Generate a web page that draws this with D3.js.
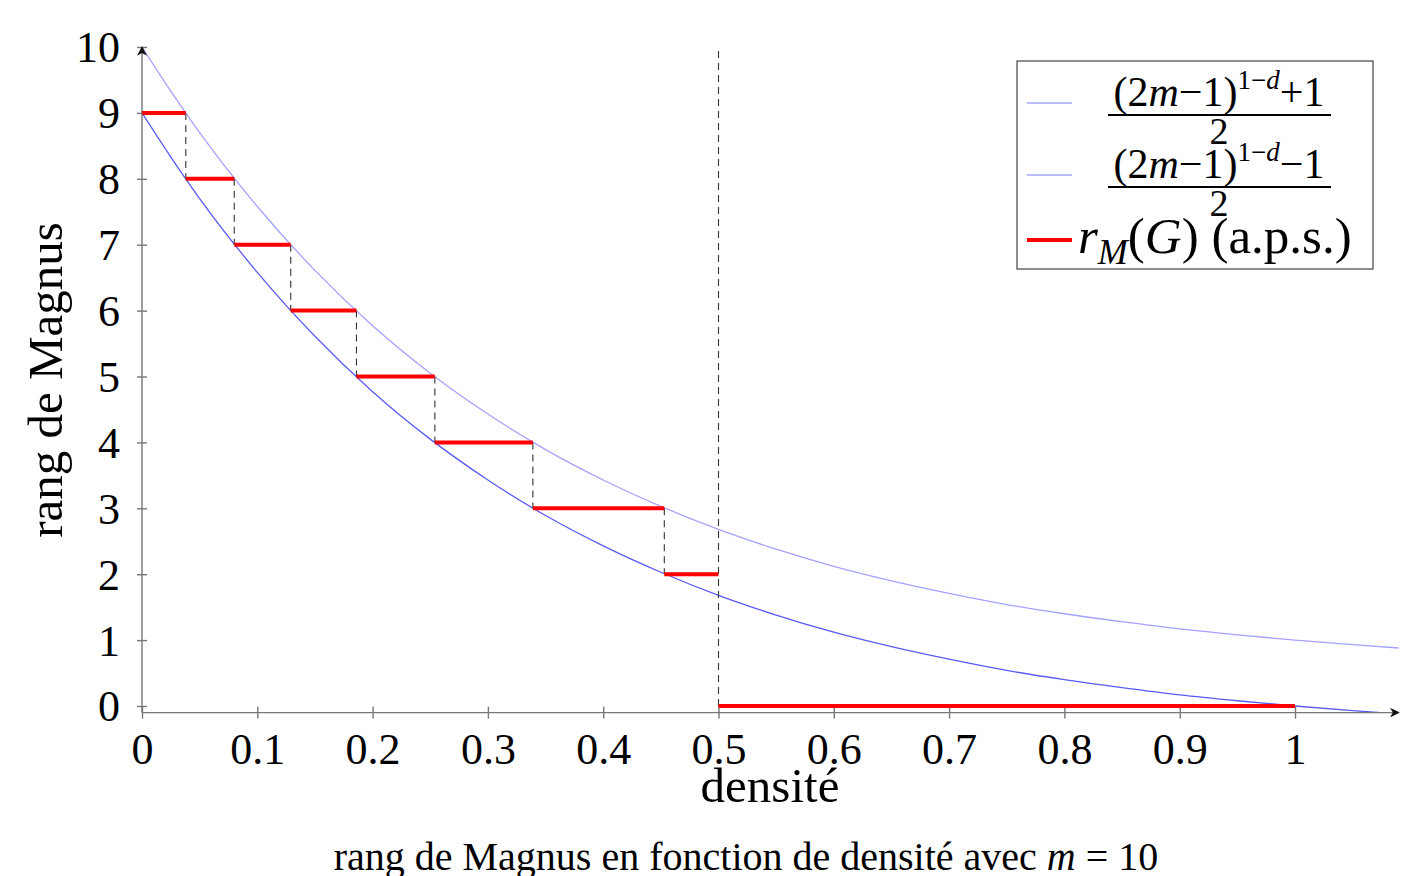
<!DOCTYPE html>
<meta charset="utf-8">
<style>
body { margin: 0; background: #fff; }
svg text { font-family: "Liberation Serif", "Times New Roman", serif; fill: #000; }
.axis path, .axis line { stroke: #777; stroke-width: 1.4px; fill: none; }
.tick text { font-size: 44px; font-family: "Liberation Serif", serif; }
.curve { fill: none; }
.step { stroke: #ff0000; stroke-width: 4px; }
.guide { stroke: #333; stroke-width: 1.1px; stroke-dasharray: 7,5; }
</style>
<body>
<div id="chart"></div>
</body>
<script src="https://d3js.org/d3.v7.min.js"></script>
<script>

var dens  = [0, 0.025, 0.05, 0.1, 0.15, 0.2, 0.25, 0.3, 0.35, 0.4, 0.45, 0.5, 0.55,
             0.6, 0.65, 0.7, 0.75, 0.8, 0.85, 0.9, 0.95, 1.0, 1.05, 1.09];
var upper = [10, 9.33, 8.70, 7.58, 6.61, 5.77, 5.05, 4.43, 3.89, 3.43, 3.03, 2.68, 2.38,
             2.12, 1.90, 1.71, 1.54, 1.40, 1.28, 1.17, 1.08, 1.00, 0.93, 0.88];
var lower = [9, 8.33, 7.70, 6.58, 5.61, 4.77, 4.05, 3.43, 2.89, 2.43, 2.03, 1.68, 1.38,
             1.12, 0.90, 0.71, 0.54, 0.40, 0.28, 0.17, 0.08, 0.00, -0.07, -0.12];

// r_M(G) steps
var stepLevel = [9, 8, 7, 6, 5, 4, 3, 2, 0];
var stepFrom  = [0, 0.038, 0.080, 0.129, 0.186, 0.254, 0.339, 0.453, 0.5];
var stepTo    = [0.038, 0.080, 0.129, 0.186, 0.254, 0.339, 0.453, 0.5, 1.0];

var xTicks = [0, 0.1, 0.2, 0.3, 0.4, 0.5, 0.6, 0.7, 0.8, 0.9, 1];
var yTicks = [0, 1, 2, 3, 4, 5, 6, 7, 8, 9, 10];

var W = 1406, H = 876;
var x = d3.scaleLinear().domain([0, 1.09]).range([142, 142 + 1.09 * 1153]);
var y = d3.scaleLinear().domain([-0.1, 10]).range([712.6, 47]);

var svg = d3.select("#chart").append("svg")
    .attr("width", W).attr("height", H);

var defs = svg.append("defs");
defs.append("clipPath").attr("id", "clip")
  .append("rect")
    .attr("x", x(0)).attr("y", y(10) - 2)
    .attr("width", x(1.09) - x(0)).attr("height", y(-0.1) - y(10) + 2);
defs.append("marker")
    .attr("id", "arrow").attr("viewBox", "0 0 10 10")
    .attr("refX", 9).attr("refY", 5)
    .attr("markerWidth", 7).attr("markerHeight", 7)
    .attr("markerUnits", "strokeWidth")
    .attr("orient", "auto")
  .append("path")
    .attr("d", "M0,0 L10,5 L0,10 L3,5 Z")
    .attr("fill", "#111");

// curves
var line = d3.line()
    .curve(d3.curveMonotoneX)
    .x(function(d) { return x(d[0]); })
    .y(function(d) { return y(d[1]); });

svg.append("path")
    .attr("class", "curve")
    .attr("clip-path", "url(#clip)")
    .attr("stroke", "#a3a3ff").attr("stroke-width", 1.3)
    .attr("d", line(dens.map(function(d, i) { return [d, upper[i]]; })));
svg.append("path")
    .attr("class", "curve")
    .attr("clip-path", "url(#clip)")
    .attr("stroke", "#5a5af5").attr("stroke-width", 1.3)
    .attr("d", line(dens.map(function(d, i) { return [d, lower[i]]; })));

// dashed drops between steps
var drops = stepTo.slice(0, 7).map(function(d, i) { return [d, stepLevel[i], stepLevel[i + 1]]; });
svg.selectAll(".drop").data(drops).enter().append("line")
    .attr("class", "guide")
    .attr("x1", function(d) { return x(d[0]); }).attr("x2", function(d) { return x(d[0]); })
    .attr("y1", function(d) { return y(d[1]); }).attr("y2", function(d) { return y(d[2]); });
svg.append("line")
    .attr("class", "guide")
    .attr("x1", x(0.5)).attr("x2", x(0.5))
    .attr("y1", y(0)).attr("y2", y(10));

// axes
var xAxis = svg.append("g").attr("class", "axis")
    .attr("transform", "translate(0," + y(-0.1) + ")")
    .call(d3.axisBottom(x).tickValues(xTicks).tickSize(6).tickSizeOuter(0)
      .tickFormat(function(d) { return d3.format("")(d); }));
xAxis.select(".domain").remove();
xAxis.selectAll(".tick line").attr("y1", -6);
xAxis.selectAll(".tick text").attr("y", 20).attr("dy", "0.71em");
svg.append("line")
    .attr("x1", x(0)).attr("x2", x(1.09))
    .attr("y1", y(-0.1)).attr("y2", y(-0.1))
    .attr("stroke", "#777").attr("stroke-width", 1.4)
    .attr("marker-end", "url(#arrow)");

var yAxis = svg.append("g").attr("class", "axis")
    .attr("transform", "translate(" + x(0) + ",0)")
    .call(d3.axisLeft(y).tickValues(yTicks).tickSize(5).tickSizeOuter(0));
yAxis.select(".domain").remove();
yAxis.selectAll(".tick line").attr("x1", 5);
yAxis.selectAll(".tick text").attr("x", -22).attr("dy", "0.34em");
svg.append("line")
    .attr("x1", x(0)).attr("x2", x(0))
    .attr("y1", y(-0.1)).attr("y2", y(10))
    .attr("stroke", "#777").attr("stroke-width", 1.4)
    .attr("marker-end", "url(#arrow)");

// red steps on top
svg.selectAll(".step").data(stepLevel).enter().append("line")
    .attr("class", "step")
    .attr("x1", function(d, i) { return x(stepFrom[i]); })
    .attr("x2", function(d, i) { return x(stepTo[i]); })
    .attr("y1", function(d) { return y(d); })
    .attr("y2", function(d) { return y(d); });

// axis labels
svg.append("text")
    .attr("x", 770).attr("y", 802)
    .attr("text-anchor", "middle").style("font-size", "49px")
    .text("densité");
svg.append("text")
    .attr("transform", "translate(62,380) rotate(-90)")
    .attr("text-anchor", "middle").style("font-size", "49px")
    .text("rang de Magnus");

// caption
var cap = svg.append("text")
    .attr("x", 746).attr("y", 870)
    .attr("text-anchor", "middle").style("font-size", "40px");
cap.append("tspan").text("rang de Magnus en fonction de densité avec ");
cap.append("tspan").style("font-style", "italic").text("m");
cap.append("tspan").text(" = 10");

// legend
var lg = svg.append("g");
lg.append("rect")
    .attr("x", 1017).attr("y", 61).attr("width", 356).attr("height", 208)
    .attr("fill", "#fff").attr("stroke", "#444").attr("stroke-width", 1.2);

var legendColors = ["#a3a3ff", "#a3a3ff", "#ff0000"];
var legendWidths = [1.3, 1.3, 4];
var legendY = [103, 175, 240];
legendY.forEach(function(ly, i) {
  lg.append("line")
      .attr("x1", 1027).attr("x2", 1072).attr("y1", ly).attr("y2", ly)
      .attr("stroke", legendColors[i]).attr("stroke-width", legendWidths[i]);
});

var signs = ["+", "\u2212"];
signs.forEach(function(s, i) {
  var by = 115 + i * 72;
  var num = lg.append("text")
      .attr("x", 1219).attr("y", by - 9)
      .attr("text-anchor", "middle").style("font-size", "42px");
  num.append("tspan").text("(2");
  num.append("tspan").style("font-style", "italic").text("m");
  num.append("tspan").text("\u22121)");
  num.append("tspan").attr("dy", -17).style("font-size", "27px").text("1\u2212");
  num.append("tspan").style("font-size", "27px").style("font-style", "italic").text("d");
  num.append("tspan").attr("dy", 17).text(s + "1");
  lg.append("line")
      .attr("x1", 1108).attr("x2", 1331).attr("y1", by).attr("y2", by)
      .attr("stroke", "#000").attr("stroke-width", 2);
  lg.append("text")
      .attr("x", 1219).attr("y", by + 29)
      .attr("text-anchor", "middle").style("font-size", "38px")
      .text("2");
});

var r = lg.append("text")
    .attr("x", 1078).attr("y", 253).style("font-size", "51px");
r.append("tspan").style("font-style", "italic").text("r");
r.append("tspan").attr("dy", 11).style("font-style", "italic").style("font-size", "36px").text("M");
r.append("tspan").attr("dy", -11).text("(");
r.append("tspan").style("font-style", "italic").text("G");
r.append("tspan").text(") (a.p.s.)");

</script>
